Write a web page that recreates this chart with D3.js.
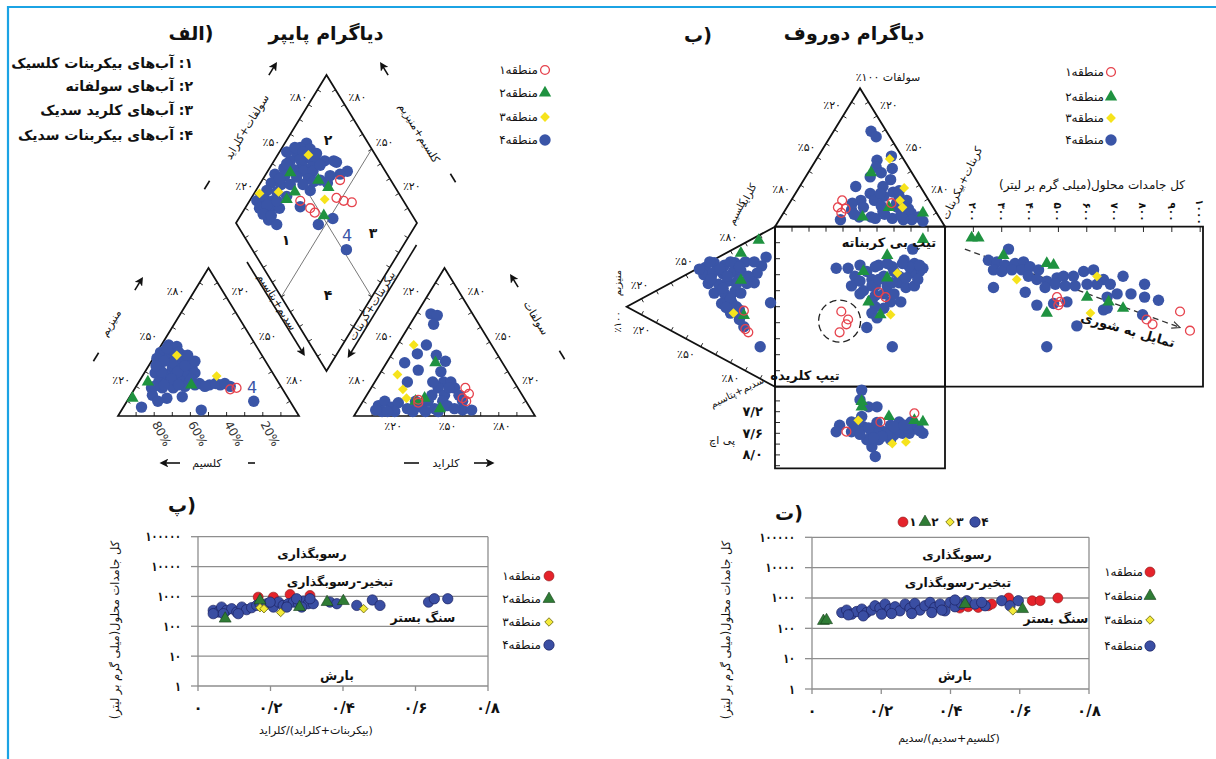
<!DOCTYPE html>
<html>
<head>
<meta charset="utf-8">
<title>Piper / Durov / Gibbs</title>
<script src="https://cdn.jsdelivr.net/npm/d3@7"></script>
<style>
  body { margin: 0; background: #fff; }
  svg { display: block; }
  text { font-family: "DejaVu Sans", sans-serif; }
</style>
</head>
<body>
<svg id="chart" width="1216" height="759"></svg>
<script>
// ---------------- data ----------------
var zones = ["منطقه۱", "منطقه۲", "منطقه۳", "منطقه۴"];
var waterTypes = ["۱: آب‌های بیکربنات کلسیک", "۲: آب‌های سولفاته", "۳: آب‌های کلرید سدیک", "۴: آب‌های بیکربنات سدیک"];

// Piper cation triangle  [Na+K %, Mg %]
var piperCat1 = [[53, 18], [56, 19]];
var piperCat2 = [[2, 12], [5, 23], [30, 21]];
var piperCat3 = [[41, 27], [12, 41]];
var piperCat4 = [[4, 48], [9, 47], [2, 43], [8, 42], [15, 41], [2, 39], [8, 38], [14, 37], [20, 37], [6, 33], [14, 32], [19, 32], [25, 32],
  [6, 29], [12, 28], [18, 28], [23, 28], [28, 29], [11, 23], [17, 23], [22, 24], [28, 23], [34, 22], [40, 21], [46, 21], [52, 20],
  [9, 19], [15, 19], [21, 19], [27, 20], [12, 14], [21, 12], [17, 10], [29, 13], [10, 6], [44, 4], [70, 10], [24, 37], [12, 36],
  [18, 30], [38, 20], [7, 37], [10, 20], [4, 46], [12, 43], [18, 41], [9, 30], [17, 25], [28, 25], [15, 21], [23, 21], [32, 21],
  [43, 22], [48, 22], [4, 34], [20, 34]];

// Piper anion triangle  [Cl %, SO4 %]
var piperAn1 = [[52, 19], [56, 15], [54, 12], [57, 10], [30, 11], [31, 9]];
var piperAn2 = [[27, 36], [29, 10], [45, 5], [33, 12]];
var piperAn3 = [[9, 48], [10, 28], [18, 18], [23, 12]];
var piperAn4 = [[8, 69], [12, 68], [13, 62], [16, 48], [14, 42], [25, 41], [32, 37], [10, 36], [20, 31], [18, 23], [33, 30], [38, 23],
  [46, 19], [42, 23], [37, 19], [36, 14], [43, 14], [51, 14], [55, 10], [58, 4], [63, 4], [10, 7], [12, 10], [18, 6], [20, 9],
  [14, 3], [21, 3], [27, 5], [29, 10], [34, 6], [36, 10], [42, 5], [44, 10], [48, 7], [53, 5], [38, 3], [45, 3], [31, 3], [17, 3],
  [10, 4], [32, 23], [43, 19]];

// Piper diamond  [SO4+Cl %, Ca+Mg %]
var piperDia1 = [[72, 57], [64, 53], [67, 48], [71, 43], [46, 64], [47, 60], [43, 72]];
var piperDia2 = [[47, 87], [43, 78], [36, 80], [60, 69], [63, 61], [51, 54]];
var piperDia3 = [[63, 83], [34, 87], [23, 97], [57, 59]];
var piperDia4 = [[66, 88], [61, 90], [66, 84], [57, 90], [61, 83], [65, 78], [51, 91], [56, 83], [61, 77], [45, 92], [50, 86], [55, 80],
  [60, 75], [70, 72], [76, 65], [79, 56], [74, 59], [38, 95], [43, 89], [49, 82], [55, 75], [61, 68], [33, 94], [38, 88], [28, 94],
  [33, 88], [52, 70], [64, 63], [19, 96], [24, 92], [28, 87], [18, 92], [24, 86], [29, 81], [19, 83], [22, 77], [41, 70], [45, 54],
  [55, 48], [52, 30], [52, 96], [58, 93], [61, 87], [68, 79], [66, 73], [57, 86], [48, 92], [39, 91], [43, 83], [50, 76], [23, 89],
  [30, 85], [37, 81], [18, 88], [22, 83], [68, 64], [75, 67], [57, 71]];

// Durov anion triangle  [HCO3 %, SO4 %]
var durovTop1 = [[30, 19], [30, 14], [35, 13], [34, 10], [60, 17]];
var durovTop2 = [[37, 39], [60, 14], [48, 7], [82, 10]];
var durovTop3 = [[43, 49], [62, 28], [64, 19], [68, 14]];
var durovTop4 = [[22, 69], [27, 65], [36, 48], [38, 43], [43, 39], [48, 42], [38, 36], [51, 34], [49, 29], [44, 24], [41, 19], [37, 17],
  [49, 19], [62, 22], [68, 19], [65, 14], [58, 11], [53, 7], [46, 7], [39, 12], [36, 5], [75, 10], [81, 7], [85, 4], [78, 5], [73, 5],
  [66, 6], [56, 6], [53, 22], [57, 25], [33, 29], [43, 51], [55, 15], [60, 9], [70, 8], [63, 17], [45, 14], [50, 24], [72, 13],
  [42, 9], [60, 26]];

// Durov cation triangle  [Ca %, Mg %]
var durovLeft1 = [[26, 20], [25, 18], [37, 21]];
var durovLeft2 = [[86, 11], [72, 23], [55, 23], [34, 21]];
var durovLeft3 = [[32, 28]];
var durovLeft4 = [[51, 47], [57, 41], [59, 34], [64, 27], [68, 20], [46, 48], [50, 42], [53, 35], [58, 28], [61, 23], [42, 45], [45, 38],
  [50, 32], [54, 25], [38, 41], [41, 34], [46, 27], [34, 36], [38, 29], [31, 30], [36, 24], [27, 21], [71, 9], [65, 12], [58, 14],
  [78, 6], [51, 3], [20, 10], [55, 19], [47, 23], [56, 44], [55, 37], [63, 30], [63, 24], [48, 51], [46, 43], [53, 32], [51, 26],
  [44, 35], [40, 30], [37, 26], [33, 33], [30, 24], [71, 14], [60, 18]];

// Durov central square  [anion index %, cation index %]
var durovSq1 = [[39, 47], [43, 42], [42, 39], [38, 34], [65, 56], [61, 59]];
var durovSq2 = [[66, 82], [52, 72], [66, 68], [55, 53], [62, 45], [87, 92]];
var durovSq3 = [[72, 71], [68, 45]];
var durovSq4 = [[81, 86], [36, 74], [43, 74], [54, 72], [61, 76], [69, 75], [76, 79], [82, 77], [85, 72], [47, 69], [57, 67], [64, 69],
  [73, 69], [80, 71], [45, 63], [52, 60], [59, 63], [64, 58], [73, 65], [77, 62], [82, 63], [57, 54], [59, 50], [68, 53], [74, 53],
  [57, 46], [54, 37], [69, 25], [50, 66], [66, 63], [70, 72], [79, 75], [87, 74], [60, 43], [75, 77], [59, 75], [66, 77], [50, 76],
  [57, 63], [61, 67], [69, 65], [77, 68], [84, 67], [50, 58], [59, 57], [70, 58], [85, 76], [64, 49]];

// Durov pH panel  [anion index %, pH]
var durovPh1 = [[82, 7.23], [42, 7.57], [62, 7.39]];
var durovPh2 = [[51, 7.01], [51, 7.11], [67, 7.29], [87, 7.39], [82, 7.36]];
var durovPh3 = [[69, 7.79], [77, 7.76], [49, 7.36]];
var durovPh4 = [[51, 6.80], [50, 6.98], [55, 7.11], [60, 7.11], [51, 7.29], [45, 7.39], [38, 7.45], [36, 7.57], [45, 7.57], [52, 7.48],
  [59, 7.48], [57, 7.60], [64, 7.57], [68, 7.45], [73, 7.39], [80, 7.39], [82, 7.51], [87, 7.60], [75, 7.60], [68, 7.72], [61, 7.72],
  [57, 7.85], [59, 8.03], [54, 7.72], [49, 7.39], [79, 7.60], [70, 7.63], [47, 7.45], [55, 7.50], [62, 7.55], [66, 7.62], [72, 7.52],
  [78, 7.50], [84, 7.48], [63, 7.66], [58, 7.68], [50, 7.62], [70, 7.48], [76, 7.45], [85, 7.55], [60, 7.40]];

// Durov TDS panel  [TDS mg/l, cation index %]
var durovTds1 = [[495, 56], [506, 53], [500, 51], [929, 47], [964, 35], [811, 42], [832, 39]];
var durovTds2 = [[194, 93], [218, 93], [306, 82], [459, 77], [483, 76], [459, 46], [601, 56], [677, 53], [728, 49]];
var durovTds3 = [[353, 67], [613, 46], [636, 69]];
var durovTds4 = [[324, 86], [253, 79], [283, 78], [312, 76], [347, 77], [377, 78], [271, 73], [300, 72], [336, 73], [371, 73], [400, 75],
  [430, 73], [394, 69], [424, 67], [459, 66], [495, 68], [518, 69], [553, 69], [589, 72], [624, 73], [659, 67], [636, 64], [601, 64],
  [559, 63], [524, 63], [489, 64], [453, 62], [271, 62], [383, 59], [424, 51], [483, 52], [530, 53], [565, 38], [459, 25], [659, 48],
  [683, 64], [707, 58], [672, 56], [728, 69], [756, 58], [804, 64], [804, 56], [853, 54], [797, 45], [672, 49]];
var salinityTrend = [[170, 86], [929, 37]];
var durovCircled = [38, 41];   // centre of the dashed ring, square units

// Gibbs plots  [ratio, TDS mg/l]
var gibbsA1 = [[0.166, 948], [0.208, 948], [0.254, 1166], [0.309, 1080]];
var gibbsA2 = [[0.075, 180], [0.171, 736], [0.356, 646], [0.401, 698], [0.28, 440]];
var gibbsA3 = [[0.171, 420], [0.182, 388], [0.228, 290], [0.457, 388]];
var gibbsA4 = [[0.042, 341], [0.056, 300], [0.065, 440], [0.079, 341], [0.093, 388], [0.107, 300], [0.121, 440], [0.134, 360],
  [0.148, 420], [0.162, 500], [0.19, 570], [0.208, 440], [0.222, 646], [0.235, 500], [0.249, 570], [0.263, 646], [0.277, 570],
  [0.291, 698], [0.304, 570], [0.318, 570], [0.364, 646], [0.383, 570], [0.438, 500], [0.481, 760], [0.502, 500], [0.042, 264],
  [0.07, 264], [0.111, 264], [0.199, 646], [0.245, 440], [0.286, 440], [0.309, 836], [0.171, 570], [0.272, 836], [0.636, 645],
  [0.652, 836], [0.689, 836]];
var gibbsB1 = [[0.568, 1000], [0.636, 813], [0.659, 813], [0.71, 1000], [0.427, 464], [0.451, 513], [0.48, 486], [0.509, 554], [0.519, 631]];
var gibbsB2 = [[0.033, 175], [0.042, 185], [0.442, 631], [0.608, 430]];
var gibbsB3 = [[0.58, 377]];
var gibbsB4 = [[0.086, 331], [0.1, 398], [0.115, 293], [0.129, 358], [0.144, 430], [0.158, 331], [0.172, 398], [0.182, 554], [0.196, 464],
  [0.211, 631], [0.225, 430], [0.24, 513], [0.254, 377], [0.269, 631], [0.283, 464], [0.297, 661], [0.312, 398], [0.326, 554],
  [0.341, 713], [0.355, 486], [0.37, 631], [0.384, 377], [0.399, 713], [0.413, 513], [0.432, 631], [0.447, 813], [0.471, 631],
  [0.5, 554], [0.548, 813], [0.572, 554], [0.105, 277], [0.148, 257], [0.201, 293], [0.23, 307], [0.288, 307], [0.346, 331],
  [0.375, 398], [0.413, 858], [0.49, 713], [0.596, 813]];

// tick labels
var pctTicks = [20, 50, 80];
var pctLabels = ["٪۲۰", "٪۵۰", "٪۸۰"];
var caTicks = [80, 60, 40, 20];
var caLabels = ["80%", "60%", "40%", "20%"];
var tdsTicks = [200, 300, 400, 500, 600, 700, 800, 900, 1000];
var tdsLabels = ["۲۰۰", "۳۰۰", "۴۰۰", "۵۰۰", "۶۰۰", "۷۰۰", "۸۰۰", "۹۰۰", "۱۰۰۰"];
var phTicks = [7.2, 7.6, 8.0];
var phLabels = ["۷/۲", "۷/۶", "۸/۰"];
var gibbsXTicks = [0, 0.2, 0.4, 0.6, 0.8];
var gibbsXLabels = ["۰", "۰/۲", "۰/۴", "۰/۶", "۰/۸"];
var gibbsYTicks = [1, 10, 100, 1000, 10000, 100000];
var gibbsYLabels = ["۱", "۱۰", "۱۰۰", "۱۰۰۰", "۱۰۰۰۰", "۱۰۰۰۰۰"];

// ---------------- drawing ----------------
var svg = d3.select("#chart");
var ink = "#111";

var defs = svg.append("defs");
defs.append("marker").attr("id", "head")
  .attr("viewBox", "0 0 10 10").attr("refX", 6).attr("refY", 5)
  .attr("markerWidth", 5.5).attr("markerHeight", 5.5).attr("orient", "auto")
  .append("path").attr("d", "M0,0L10,5L0,10L2.5,5Z").attr("fill", ink);
defs.append("marker").attr("id", "openhead")
  .attr("viewBox", "0 0 10 10").attr("refX", 9).attr("refY", 5)
  .attr("markerWidth", 9).attr("markerHeight", 9).attr("orient", "auto").attr("markerUnits", "userSpaceOnUse")
  .append("path").attr("d", "M0,1L9,5L0,9").attr("fill", "none").attr("stroke", "#333").attr("stroke-width", 1.2);

// frame (top and left edges)
svg.append("path").attr("d", "M8,759V7H1216").attr("fill", "none").attr("stroke", "#1ba3e4").attr("stroke-width", 2.2);

function txt(x, y, s, o) {
  o = o || {};
  var t = svg.append("text")
    .attr("transform", "translate(" + x + "," + y + ")" + (o.rot ? " rotate(" + o.rot + ")" : ""))
    .attr("font-size", o.size || 11)
    .attr("font-weight", o.bold ? "bold" : "normal")
    .attr("fill", o.fill || ink)
    .attr("dominant-baseline", "central")
    .text(s);
  if (o.rtl) {
    t.attr("direction", "rtl").style("direction", "rtl")
      .attr("text-anchor", o.anchor === "right" ? "start" : o.anchor === "left" ? "end" : "middle");
  } else {
    t.attr("text-anchor", o.anchor === "right" ? "end" : o.anchor === "left" ? "start" : "middle");
  }
  if (o.len) t.attr("textLength", o.len).attr("lengthAdjust", "spacingAndGlyphs");
  return t;
}
function line(x1, y1, x2, y2, o) {
  o = o || {};
  var l = svg.append("line").attr("x1", x1).attr("y1", y1).attr("x2", x2).attr("y2", y2)
    .attr("stroke", o.stroke || ink).attr("stroke-width", o.w || 1);
  if (o.dash) l.attr("stroke-dasharray", o.dash);
  if (o.head) l.attr("marker-end", "url(#" + o.head + ")");
  return l;
}
function poly(pts, w) {
  svg.append("path").attr("d", d3.line()(pts) + "Z").attr("fill", "none")
    .attr("stroke", ink).attr("stroke-width", w || 1.7);
}
function edgeTicks(P, Q, C, n, len) {
  var dx = Q[0] - P[0], dy = Q[1] - P[1], L = Math.hypot(dx, dy);
  var nx = -dy / L, ny = dx / L;
  var mx = (P[0] + Q[0]) / 2, my = (P[1] + Q[1]) / 2;
  if ((C[0] - mx) * nx + (C[1] - my) * ny < 0) { nx = -nx; ny = -ny; }
  d3.range(1, n).forEach(function(i) {
    var x = P[0] + dx * i / n, y = P[1] + dy * i / n;
    line(x, y, x + nx * len, y + ny * len, {w: 0.9});
  });
}
function seg(c, u, half, head) {
  line(c[0] - u[0] * half, c[1] - u[1] * half, c[0] + u[0] * half, c[1] + u[1] * half, {w: 1.6, head: head ? "head" : null});
}

// marker styles
var soft = {
  1: {type: d3.symbolCircle, size: 62, fill: "none", stroke: "#e6434d", sw: 1.3},
  2: {type: d3.symbolTriangle, size: 66, fill: "#1f9240"},
  3: {type: d3.symbolSquare, size: 48, fill: "#f6e31c", rot: 45},
  4: {type: d3.symbolCircle, size: 102, fill: "#3a55a7"}
};
var solid = {
  1: {type: d3.symbolCircle, size: 78, fill: "#e5232b", stroke: "#8a1c1c", sw: 0.6},
  2: {type: d3.symbolTriangle, size: 62, fill: "#2f7c35", stroke: "#173f1b", sw: 0.6},
  3: {type: d3.symbolSquare, size: 36, fill: "#f3ea3a", stroke: "#6e6a10", sw: 0.8, rot: 45},
  4: {type: d3.symbolCircle, size: 84, fill: "#3a4ea3", stroke: "#1b2363", sw: 0.7}
};
function plot(pts, proj, st) {
  svg.append("g").selectAll("path").data(pts).join("path")
    .attr("transform", function(d) {
      var p = proj(d);
      return "translate(" + p[0] + "," + p[1] + ")" + (st.rot ? " rotate(" + st.rot + ")" : "");
    })
    .attr("d", d3.symbol().type(st.type).size(st.size))
    .attr("fill", st.fill).attr("stroke", st.stroke || "none").attr("stroke-width", st.sw || 0);
}
function mark(x, y, st) { plot([[x, y]], function(d) { return d; }, st); }
function legend(mx, tx, ys, st) {
  zones.forEach(function(z, i) {
    mark(mx, ys[i], st[i + 1]);
    txt(tx, ys[i], z, {rtl: true, anchor: "right", size: 12});
  });
}

// ======== titles ========
txt(326, 33, "دیاگرام پایپر", {rtl: true, bold: true, size: 19});
txt(191, 33, "(الف", {rtl: true, bold: true, size: 19});
txt(854, 33, "دیاگرام دوروف", {rtl: true, bold: true, size: 19});
txt(698, 35, "(ب", {rtl: true, bold: true, size: 19});

// ======== PIPER ========
var PB = 416, PS = 181, PH = 148;
var catX = d3.scaleLinear().domain([0, 100]).range([118, 118 + PS]);
var anX = d3.scaleLinear().domain([0, 100]).range([354, 354 + PS]);
var triY = d3.scaleLinear().domain([0, 100]).range([PB, PB - PH]);
function catP(d) { return [catX(d[0] + d[1] / 2), triY(d[1])]; }
function anP(d) { return [anX(d[0] + d[1] / 2), triY(d[1])]; }
var diaX = d3.scaleLinear().domain([-100, 100]).range([236, 417]);
var diaY = d3.scaleLinear().domain([0, 200]).range([371, 75]);
function diaP(d) { return [diaX(d[0] - d[1]), diaY(d[0] + d[1])]; }

var cA = catP([0, 0]), cB = catP([100, 0]), cC = catP([0, 100]);
var aA = anP([0, 0]), aB = anP([100, 0]), aC = anP([0, 100]);
var dL = diaP([0, 100]), dT = diaP([100, 100]), dR = diaP([100, 0]), dB = diaP([0, 0]);

line(diaP([50, 100])[0], diaP([50, 100])[1], diaP([50, 0])[0], diaP([50, 0])[1], {w: 0.8, stroke: "#555"});
line(diaP([100, 50])[0], diaP([100, 50])[1], diaP([0, 50])[0], diaP([0, 50])[1], {w: 0.8, stroke: "#555"});

poly([cA, cB, cC]);
poly([aA, aB, aC]);
poly([dL, dT, dR, dB]);
var cCen = catP([33, 33]), aCen = anP([33, 33]), dCen = diaP([50, 50]);
edgeTicks(cA, cB, cCen, 10, 4); edgeTicks(cB, cC, cCen, 10, 4); edgeTicks(cC, cA, cCen, 10, 4);
edgeTicks(aA, aB, aCen, 10, 4); edgeTicks(aB, aC, aCen, 10, 4); edgeTicks(aC, aA, aCen, 10, 4);
edgeTicks(dL, dT, dCen, 10, 4); edgeTicks(dT, dR, dCen, 10, 4); edgeTicks(dR, dB, dCen, 10, 4); edgeTicks(dB, dL, dCen, 10, 4);

pctTicks.forEach(function(v, i) {
  var p;
  p = catP([0, v]); txt(p[0] - 6, p[1] - 6, pctLabels[i], {anchor: "right"});
  p = catP([v, 100 - v]); txt(p[0] + 5, p[1] - 6, pctLabels[i], {anchor: "left"});
  p = anP([0, 100 - v]); txt(p[0] - 6, p[1] - 6, pctLabels[i], {anchor: "right"});
  p = anP([100 - v, v]); txt(p[0] + 5, p[1] - 6, pctLabels[i], {anchor: "left"});
  p = anP([v, 0]); txt(p[0] + 3, 426, pctLabels[i]);
  p = diaP([v, 100]); txt(p[0] - 1, p[1] - 7, pctLabels[i], {anchor: "right"});
  p = diaP([100, v]); txt(p[0] + 4, p[1] - 7, pctLabels[i], {anchor: "left"});
});
caTicks.forEach(function(v, i) {
  var p = catP([100 - v, 0]);
  svg.append("text").attr("transform", "translate(" + (p[0] + 1) + "," + 422 + ") rotate(62)")
    .attr("font-size", 12).attr("fill", "#333").attr("dominant-baseline", "central").text(caLabels[i]);
});

var uUR = [0.5216, -0.853], uUL = [-0.5216, -0.853];
txt(111, 323, "منیزیم", {rtl: true, rot: -58.5, size: 11});
seg([138, 285], uUR, 6, true); seg([96, 357], uUR, 5, false);
txt(247, 127, "سولفات+کلراید", {rtl: true, rot: -58.5, size: 11});
seg([272, 70], uUR, 6, true); seg([207, 185], uUR, 5, false);
txt(419, 133, "کلسیم+منیزیم", {rtl: true, rot: 58.5, size: 11});
seg([385, 70], uUL, 6, true); seg([453, 178], uUL, 5, false);
txt(536, 318, "سولفات", {rtl: true, rot: 58.5, size: 11});
seg([515, 282], uUL, 6, true); seg([562, 355], uUL, 5, false);
line(247, 262, 303, 353, {w: 1.6, head: "head"});
txt(277, 302, "سدیم+پتاسیم", {rtl: true, rot: 58.5, size: 11});
line(416.5, 245, 349.5, 355, {w: 1.6, head: "head"});
txt(372, 306, "بیکربنات+کربنات", {rtl: true, rot: -58.5, size: 11});
line(180, 463, 163, 463, {w: 1.6, head: "head"});
txt(207, 463, "کلسیم", {rtl: true, size: 11});
line(248, 463, 255, 463, {w: 1.6});
line(404, 463, 419, 463, {w: 1.6});
txt(446, 463, "کلراید", {rtl: true, size: 11});
line(474, 463, 491, 463, {w: 1.6, head: "head"});

txt(328, 140, "۲", {bold: true, size: 14});
txt(286, 240, "۱", {bold: true, size: 14});
txt(373, 233, "۳", {bold: true, size: 14});
txt(328, 295, "۴", {bold: true, size: 14});

[[piperCat4, piperAn4, piperDia4, 4], [piperCat2, piperAn2, piperDia2, 2], [piperCat3, piperAn3, piperDia3, 3],
 [piperCat1, piperAn1, piperDia1, 1]].forEach(function(s) {
  plot(s[0], catP, soft[s[3]]);
  plot(s[1], anP, soft[s[3]]);
  plot(s[2], diaP, soft[s[3]]);
});
txt(347, 235, "4", {size: 16, fill: "#3a55a7"});
txt(252, 387, "4", {size: 16, fill: "#3a55a7"});

waterTypes.forEach(function(s, i) {
  txt(193, [63, 86, 110, 135][i], s, {rtl: true, anchor: "right", bold: true, size: 14});
});
legend(545, 538, [70, 93, 117, 140], soft);

// ======== DUROV ========
var dTopX = d3.scaleLinear().domain([0, 100]).range([775, 945]);
var dTopY = d3.scaleLinear().domain([0, 100]).range([226.7, 88.3]);
function dTopP(d) { return [dTopX(d[0] + d[1] / 2), dTopY(d[1])]; }
var dLeftX = d3.scaleLinear().domain([0, 100]).range([775, 626.7]);
var dSqX = d3.scaleLinear().domain([0, 100]).range([775, 945]);
var dSqY = d3.scaleLinear().domain([0, 100]).range([386.7, 226.7]);
function dLeftP(d) { return [dLeftX(d[1]), dSqY(d[0] + d[1] / 2)]; }
function sqP(d) { return [dSqX(d[0]), dSqY(d[1])]; }
var dPhY = d3.scaleLinear().domain([7.2, 8.0]).range([411.7, 454.9]);
function phP(d) { return [dSqX(d[0]), dPhY(d[1])]; }
var dTdsX = d3.scaleLinear().domain([100, 1010]).range([945, 1203]);
function tdsP(d) { return [dTdsX(d[0]), dSqY(d[1])]; }

var tL = dTopP([0, 0]), tR = dTopP([100, 0]), tA = dTopP([0, 100]);
var lU = dLeftP([100, 0]), lD = dLeftP([0, 0]), lA = dLeftP([0, 100]);
poly([tL, tA, tR], 1.8);
poly([lU, lA, lD], 1.8);
poly([[775, 226.7], [945, 226.7], [945, 386.7], [775, 386.7]], 1.8);
poly([[945, 226.7], [1203, 226.7], [1203, 386.7], [945, 386.7]], 1.8);
poly([[775, 386.7], [945, 386.7], [945, 468.3], [775, 468.3]], 1.8);
edgeTicks(tL, tA, dTopP([33, 33]), 10, 4); edgeTicks(tA, tR, dTopP([33, 33]), 10, 4);
edgeTicks(lU, lA, dLeftP([33, 33]), 10, 4); edgeTicks(lA, lD, dLeftP([33, 33]), 10, 4);
d3.range(10, 100, 10).forEach(function(v) {
  line(775, dSqY(v), 780, dSqY(v), {w: 0.9});
  line(dSqX(v), 226.7, dSqX(v), 231.7, {w: 0.9});
});
tdsTicks.forEach(function(v, i) {
  line(dTdsX(v), 226.7, dTdsX(v), 232, {w: 0.9});
  txt(dTdsX(v), 212, tdsLabels[i], {rot: 90, size: 10.5, bold: true});
});
d3.range(7.0, 8.21, 0.2).forEach(function(v) { line(775, dPhY(v), 780, dPhY(v), {w: 0.9}); });
phTicks.forEach(function(v, i) { txt(763, dPhY(v), phLabels[i], {anchor: "right", bold: true, size: 13}); });
txt(722, 440, "پی اچ", {rtl: true, size: 11});

pctTicks.forEach(function(v, i) {
  var p;
  p = dTopP([0, 100 - v]); txt(p[0] - 2, p[1] - 10, pctLabels[i], {anchor: "right"});
  p = dTopP([v, 100 - v]); txt(p[0] + 3, p[1] - 10, pctLabels[i], {anchor: "left"});
  p = dLeftP([v, 100 - v]); txt(p[0] - 8, p[1] - 5, pctLabels[i], {anchor: "right"});
  p = dLeftP([0, 100 - v]); txt(p[0] - 6, p[1] + 8, pctLabels[i], {anchor: "right"});
});
txt(888, 77, "سولفات ۱۰۰٪", {rtl: true, size: 11});
txt(617, 283, "منیزیم", {rtl: true, rot: -90, size: 10});
txt(617, 322, "٪۱۰۰", {rot: -90, size: 10});
txt(962, 183, "کربنات+بیکربنات", {rtl: true, rot: -64, size: 11});
txt(748, 195, "کلراید", {rtl: true, rot: -62, size: 10});
txt(737, 212, "کلسیم", {rtl: true, rot: -62, size: 10});
txt(737, 392, "سدیم+پتاسیم", {rtl: true, rot: -26, size: 10});
txt(1092, 185, "کل جامدات محلول(میلی گرم بر لیتر)", {rtl: true, size: 12});

var tr0 = tdsP(salinityTrend[0]), tr1 = tdsP(salinityTrend[1]);
line(tr0[0], tr0[1], tr1[0], tr1[1], {stroke: "#333", w: 1.3, dash: "6,4", head: "openhead"});

[[durovTop4, durovLeft4, durovSq4, durovPh4, durovTds4, 4], [durovTop2, durovLeft2, durovSq2, durovPh2, durovTds2, 2],
 [durovTop3, durovLeft3, durovSq3, durovPh3, durovTds3, 3], [durovTop1, durovLeft1, durovSq1, durovPh1, durovTds1, 1]].forEach(function(s) {
  var st = soft[s[5]];
  plot(s[0], dTopP, st); plot(s[1], dLeftP, st); plot(s[2], sqP, st); plot(s[3], phP, st); plot(s[4], tdsP, st);
});
var cc = sqP(durovCircled);
svg.append("circle").attr("cx", cc[0]).attr("cy", cc[1]).attr("r", 21)
  .attr("fill", "none").attr("stroke", "#222").attr("stroke-width", 1.3).attr("stroke-dasharray", "7,4");
txt(889, 242, "تیپ بی کربناته", {rtl: true, bold: true, size: 13});
txt(805, 375, "تیپ کلریده", {rtl: true, bold: true, size: 13});
txt(1128, 330, "تمایل به شوری", {rtl: true, bold: true, size: 13, rot: 16});
legend(1111, 1104, [72, 97, 118, 140], soft);

// ======== GIBBS ========
function gibbs(c) {
  var x = d3.scaleLinear().domain([0, 0.8]).range([c.x0, c.x1]);
  var y = d3.scaleLog().domain([1, 100000]).range([c.yb, c.yt]);
  var grey = "#8e8e8e";
  gibbsYTicks.forEach(function(v, i) {
    line(c.x0, y(v), c.x1, y(v), {stroke: grey, w: 1.3});
    line(c.x0 - 7, y(v), c.x0, y(v), {stroke: grey, w: 1.3});
    txt(c.x0 - 17, y(v), gibbsYLabels[i], {anchor: "right", bold: true, size: 13, len: gibbsYLabels[i].length * 5.9});
  });
  line(c.x0, c.yt, c.x0, c.yb, {stroke: grey, w: 1.3});
  line(c.x1, c.yt, c.x1, c.yb, {stroke: grey, w: 1.3});
  gibbsXTicks.forEach(function(v, i) {
    line(x(v), c.yb, x(v), c.yb + 5, {stroke: grey, w: 1.3});
    txt(x(v), c.yb + 22, gibbsXLabels[i], {bold: true, size: 15});
  });
  var proj = function(d) { return [x(d[0]), y(d[1])]; };
  plot(c.data[0], proj, solid[1]);
  plot(c.data[3], proj, solid[4]);
  plot(c.data[1], proj, solid[2]);
  plot(c.data[2], proj, solid[3]);
  txt(c.reg[0][0], c.reg[0][1], "رسوبگذاری", {rtl: true, bold: true, size: 12.5});
  txt(c.reg[1][0], c.reg[1][1], "تبخیر-رسوبگذاری", {rtl: true, bold: true, size: 12.5});
  txt(c.reg[2][0], c.reg[2][1], "سنگ بستر", {rtl: true, bold: true, size: 12.5});
  txt(c.reg[3][0], c.reg[3][1], "بارش", {rtl: true, bold: true, size: 12.5});
  txt(c.ytx, 630, "کل جامدات محلول(میلی گرم بر لیتر)", {rtl: true, rot: -90, size: 11.5});
  txt(c.xt[0], c.xt[1], c.xtitle, {rtl: true, size: 11});
  legend(c.leg[0], c.leg[1], c.leg[2], solid);
}
gibbs({x0: 198, x1: 488, yb: 686, yt: 536.7, data: [gibbsA1, gibbsA2, gibbsA3, gibbsA4],
  reg: [[312, 553], [340, 581], [423, 617], [337, 675]], ytx: 115,
  xt: [316, 730], xtitle: "(بیکربنات+کلراید)/کلراید", leg: [549, 541, [576, 599, 622, 645]]});
gibbs({x0: 812, x1: 1089, yb: 689, yt: 537.3, data: [gibbsB1, gibbsB2, gibbsB3, gibbsB4],
  reg: [[957, 554], [958, 582], [1056, 618], [955, 675]], ytx: 726,
  xt: [949, 738], xtitle: "(کلسیم+سدیم)/سدیم", leg: [1150, 1143, [572, 596, 620, 646]]});
txt(182, 505, "(پ", {rtl: true, bold: true, size: 19});
txt(789, 513, "(ت", {rtl: true, bold: true, size: 19});
[[903, 1, "۱"], [925, 2, "۲"], [950, 3, "۳"], [975, 4, "۴"]].forEach(function(m) {
  mark(m[0], 522, solid[m[1]]);
  txt(m[0] + 10, 522, m[2], {bold: true, size: 12});
});
</script>
</body>
</html>
